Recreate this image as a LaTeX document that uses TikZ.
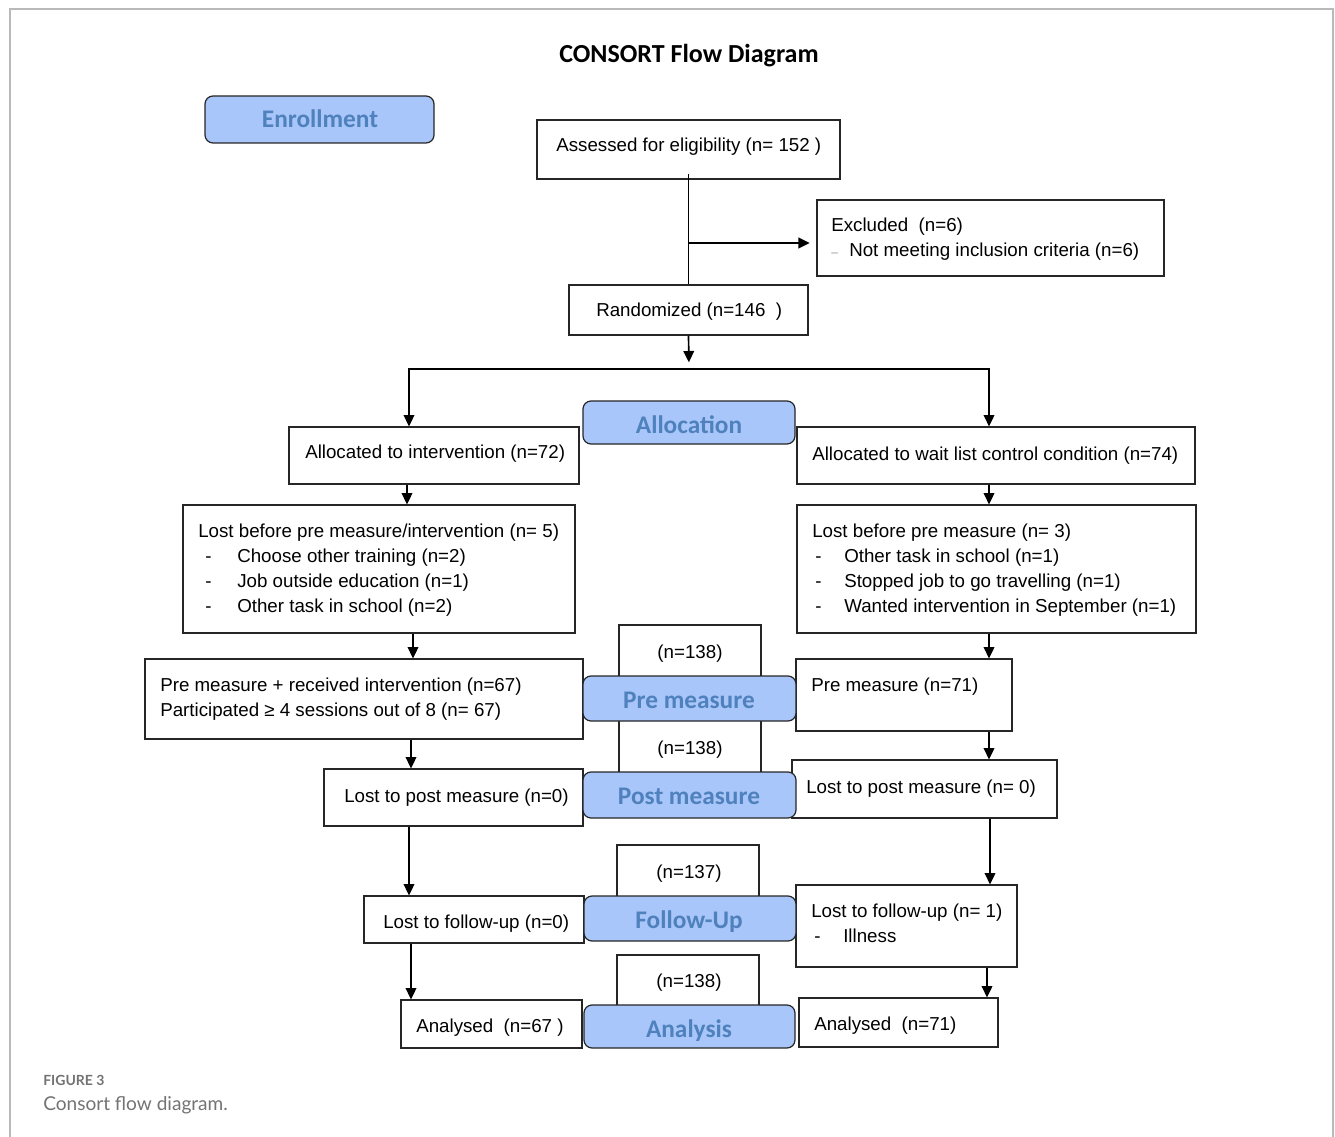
\documentclass[tikz,border=0pt]{standalone}
\usepackage{fontspec}
\setmainfont{Liberation Sans}
\newfontfamily\calfont{Carlito}
\newfontfamily\capfont{Lato}
\usetikzlibrary{fit,arrows.meta}
\definecolor{stagefill}{RGB}{168,198,250}
\definecolor{stagetext}{RGB}{79,129,189}
\definecolor{framegray}{RGB}{185,185,185}
\definecolor{capgray}{RGB}{115,115,115}
\definecolor{dashgray}{RGB}{150,150,150}
\begin{document}
\begin{tikzpicture}[x=0.75pt,y=-0.75pt,
  box/.style={draw=black!85, line width=0.9pt, inner sep=0pt, fill=white},
  stage/.style={draw=black!85, line width=0.9pt, inner sep=0pt, fill=stagefill, rounded corners=6pt},
  stxt/.style={font=\calfont\bfseries\fontsize{19}{22}\selectfont, text=stagetext, inner sep=0pt, anchor=base},
  txt/.style={font=\fontsize{14.05}{18.75}\selectfont, anchor=base west, inner sep=0pt},
  ctxt/.style={font=\fontsize{14.05}{18.75}\selectfont, anchor=base, inner sep=0pt},
  conn/.style={line width=1.25pt, black},
  arr/.style={conn, -{Triangle[length=8.5pt,width=8pt]}},
  dbl/.style={conn, {Triangle[length=8.5pt,width=8pt]}-{Triangle[length=8.5pt,width=8pt]}},
  ]
\useasboundingbox (0,0) rectangle (1335,1137);
% frame
\draw[framegray, line width=1.3pt] (10,1137) -- (10,9) -- (1333,9) -- (1333,1137);

% title
\node[font=\calfont\bfseries\fontsize{19.5}{22}\selectfont, anchor=base, inner sep=0pt] (title) at (689,63) {CONSORT Flow Diagram};

% boxes
\node[box, fit={(537,120) (840,179)}] (assess) {};
\node[box, fit={(817,200) (1164,276)}] (excl) {};
\node[box, fit={(569,285) (808,335)}] (rand) {};
\node[box, fit={(289,427) (579,484)}] (allocI) {};
\node[box, fit={(797,427) (1195,484)}] (allocC) {};
\node[box, fit={(183,505) (575,633)}] (lostI) {};
\node[box, fit={(797,505) (1196,633)}] (lostC) {};
\node[box, fit={(145,659) (583,739)}] (preI) {};
\node[box, fit={(619,625) (761,700)}] (nA) {};
\node[box, fit={(796,659) (1012,731)}] (preC) {};
\node[box, fit={(619,712) (761,790)}] (nB) {};
\node[box, fit={(324,769) (583,826)}] (postI) {};
\node[box, fit={(792,760) (1057,818)}] (postC) {};
\node[box, fit={(617,845) (759,910)}] (nC) {};
\node[box, fit={(364,896) (584,943)}] (fuI) {};
\node[box, fit={(796,885) (1017,967)}] (fuC) {};
\node[box, fit={(617,955) (759,1020)}] (nD) {};
\node[box, fit={(401,1000) (582,1048)}] (anI) {};
\node[box, fit={(799,998) (998,1047)}] (anC) {};

% stage labels
\node[stage, fit={(205,96) (434,143)}] (enroll) {};
\node[stage, fit={(583,401) (795,444)}] (alloc) {};
\node[stage, fit={(583,676) (796,721)}] (preS) {};
\node[stage, fit={(583,772) (796,818)}] (postS) {};
\node[stage, fit={(584,896) (796,941)}] (fuS) {};
\node[stage, fit={(584,1005) (795,1048)}] (anS) {};

\node[stxt] (tEnroll) at (320,128) {Enrollment};
\node[stxt] (tAlloc) at (689,434) {Allocation};
\node[stxt] (tPre) at (689,708) {Pre measure};
\node[stxt] (tPost) at (689,804) {Post measure};
\node[stxt] (tFu) at (689,928) {Follow-Up};
\node[stxt] (tAn) at (689,1037) {Analysis};

% texts
\node[txt] (tAssess) at (556,152) {Assessed for eligibility (n= 152 )};
\node[txt] (tExcl) at (831,232) {\begin{tabular}[t]{@{}l@{}}Excluded\ \ (n=6)\\\makebox[13.5pt][l]{\textcolor{dashgray}{\fontsize{9}{9}\selectfont –}}Not meeting inclusion criteria (n=6)\end{tabular}};
\node[txt] (tRand) at (596,317) {Randomized (n=146\ \ )};
\node[txt] (tAllocI) at (305,459) {Allocated to intervention (n=72)};
\node[txt] (tAllocC) at (812,460) {Allocated to wait list control condition (n=74)};
\node[txt] (tLostI) at (198,537) {\begin{tabular}[t]{@{}l@{}}Lost before pre measure/intervention (n= 5)\\
\hspace*{5.25pt}\makebox[24pt][l]{-}Choose other training (n=2)\\
\hspace*{5.25pt}\makebox[24pt][l]{-}Job outside education (n=1)\\
\hspace*{5.25pt}\makebox[24pt][l]{-}Other task in school (n=2)\end{tabular}};
\node[txt] (tLostC) at (812,537) {\begin{tabular}[t]{@{}l@{}}Lost before pre measure (n= 3)\\
\hspace*{2.25pt}\makebox[21.75pt][l]{-}Other task in school (n=1)\\
\hspace*{2.25pt}\makebox[21.75pt][l]{-}Stopped job to go travelling (n=1)\\
\hspace*{2.25pt}\makebox[21.75pt][l]{-}Wanted intervention in September (n=1)\end{tabular}};
\node[txt] (tPreI) at (160,691) {\begin{tabular}[t]{@{}l@{}}Pre measure + received intervention (n=67)\\Participated ≥ 4 sessions out of 8 (n= 67)\end{tabular}};
\node[ctxt] (tnA) at (690,658) {(n=138)};
\node[txt] (tPreC) at (811,691) {Pre measure (n=71)};
\node[ctxt] (tnB) at (690,754) {(n=138)};
\node[txt] (tPostI) at (344,802) {Lost to post measure (n=0)};
\node[txt] (tPostC) at (806,793) {Lost to post measure (n= 0)};
\node[ctxt] (tnC) at (689,878) {(n=137)};
\node[txt] (tFuI) at (383,928) {Lost to follow-up (n=0)};
\node[txt] (tFuC) at (811,917) {\begin{tabular}[t]{@{}l@{}}Lost to follow-up (n= 1)\\
\hspace*{2.25pt}\makebox[21.75pt][l]{-}Illness\end{tabular}};
\node[ctxt] (tnD) at (689,987) {(n=138)};
\node[txt] (tAnI) at (416,1032) {Analysed\ \ (n=67 )};
\node[txt] (tAnC) at (814,1030) {Analysed\ \ (n=71)};

% caption
\node[font=\capfont\bfseries\fontsize{10.5}{12}\selectfont, text=capgray, anchor=base west, inner sep=0pt] (fig) at (43,1085) {FIGURE 3};
\node[font=\capfont\fontsize{14.3}{16}\selectfont, text=capgray, anchor=base west, inner sep=0pt] (cap) at (43,1110) {Consort flow diagram.};

% connector coordinates
\coordinate (br) at (689,243);
\coordinate (split) at (689,369);
\coordinate (hl) at (409,369);
\coordinate (hr) at (989,369);
\coordinate (xa) at (407,0);
\coordinate (xb) at (413,0);
\coordinate (xc) at (411,0);
\coordinate (xd) at (409,0);
\coordinate (xe) at (411,0);
\coordinate (xr) at (989,0);
\coordinate (xs) at (990,0);
\coordinate (xt) at (987,0);

% connectors
\draw[conn] ([yshift=4.5pt]assess.south) -- (rand.north);
\draw[arr, shorten >=5pt] (br) -- (br -| excl.west);
\draw[arr, shorten >=5pt] (rand.south) -- (split);
\draw[dbl] (allocI.north -| hl) -- (hl) -- (hr) -- (allocC.north -| hr);
\draw[arr] (allocI.south -| xa) -- (lostI.north -| xa);
\draw[arr] (allocC.south -| xr) -- (lostC.north -| xr);
\draw[arr] (lostI.south -| xb) -- (preI.north -| xb);
\draw[arr] (lostC.south -| xr) -- (preC.north -| xr);
\draw[arr] (preI.south -| xc) -- (postI.north -| xc);
\draw[arr] (preC.south -| xr) -- (postC.north -| xr);
\draw[arr] (postI.south -| xd) -- (fuI.north -| xd);
\draw[arr] (postC.south -| xs) -- (fuC.north -| xs);
\draw[arr] (fuI.south -| xe) -- (anI.north -| xe);
\draw[arr] (fuC.south -| xt) -- (anC.north -| xt);
\end{tikzpicture}
\end{document}
